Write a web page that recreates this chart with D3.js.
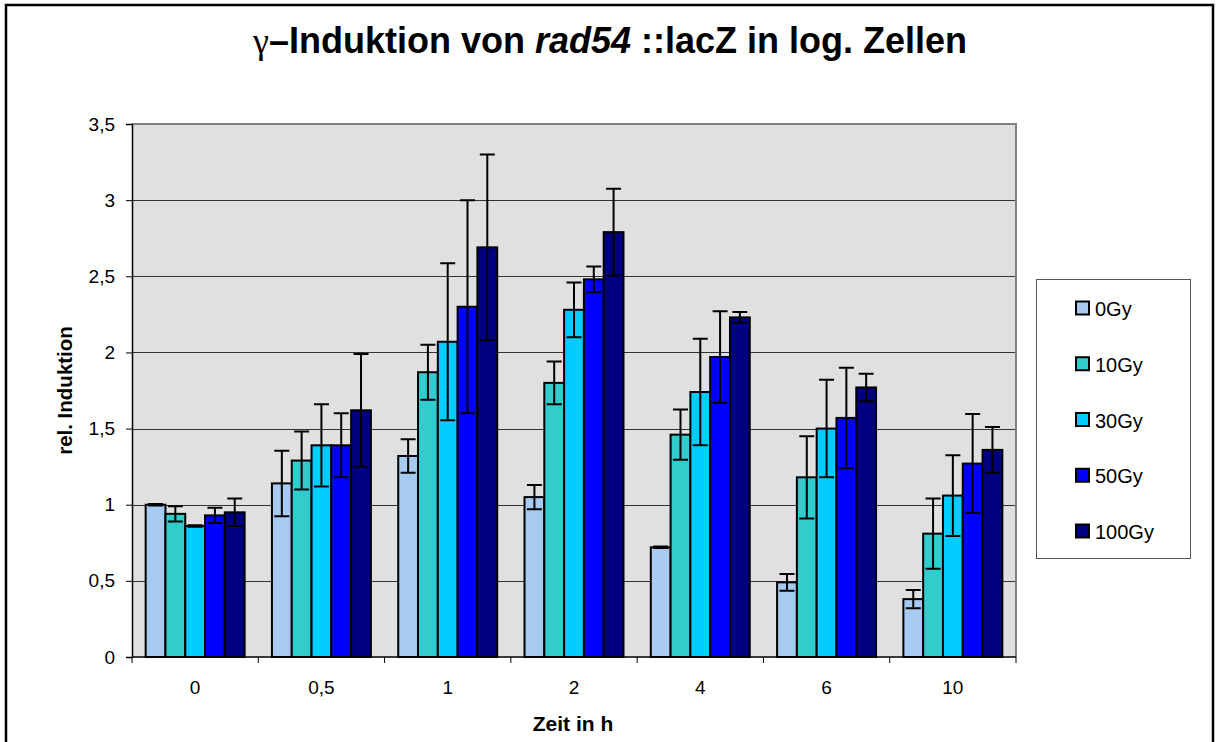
<!DOCTYPE html>
<html><head><meta charset="utf-8">
<script src="https://cdn.jsdelivr.net/npm/d3@7/dist/d3.min.js"></script>
<style>html,body{margin:0;padding:0;background:#fff;}svg{display:block;font-family:"Liberation Sans",Arial,sans-serif;}</style>
</head><body>
<svg id="chart" width="1216" height="742"></svg>
<script>
const categories = ["0", "0,5", "1", "2", "4", "6", "10"];
const seriesNames = ["0Gy", "10Gy", "30Gy", "50Gy", "100Gy"];
const seriesColors = ["#a6caf0", "#33cccc", "#00ccff", "#0000ff", "#000080"];
const values0Gy   = [1.00, 1.14, 1.32, 1.05, 0.72, 0.49, 0.38];
const values10Gy  = [0.94, 1.29, 1.87, 1.80, 1.46, 1.18, 0.81];
const values30Gy  = [0.86, 1.39, 2.07, 2.28, 1.74, 1.50, 1.06];
const values50Gy  = [0.93, 1.39, 2.30, 2.48, 1.97, 1.57, 1.27];
const values100Gy = [0.95, 1.62, 2.69, 2.79, 2.23, 1.77, 1.36];
const err0Gy   = [0.005, 0.215, 0.11, 0.08, 0.005, 0.055, 0.06];
const err10Gy  = [0.05, 0.19, 0.18, 0.14, 0.165, 0.27, 0.23];
const err30Gy  = [0.005, 0.27, 0.515, 0.18, 0.35, 0.32, 0.265];
const err50Gy  = [0.05, 0.21, 0.70, 0.085, 0.30, 0.33, 0.325];
const err100Gy = [0.09, 0.37, 0.61, 0.285, 0.035, 0.09, 0.15];
const yTicks = [0, 0.5, 1, 1.5, 2, 2.5, 3, 3.5];
const titleParts = ["γ", "–Induktion von ", "rad54", " ::lacZ in log. Zellen"];
const yLabel = "rel. Induktion";
const xLabel = "Zeit in h";

const allValues = [values0Gy, values10Gy, values30Gy, values50Gy, values100Gy];
const allErrors = [err0Gy, err10Gy, err30Gy, err50Gy, err100Gy];

const svg = d3.select("#chart");
const L = 132, R = 1016, T = 124, B = 657;

// outer frame
svg.append("rect").attr("x", 6).attr("y", 5).attr("width", 1207).attr("height", 770)
  .attr("fill", "none").attr("stroke", "#000").attr("stroke-width", 2.5);

// title
const title = svg.append("text").attr("x", 610).attr("y", 53).attr("text-anchor", "middle")
  .attr("font-size", 36).attr("font-weight", "bold").attr("fill", "#000");
title.append("tspan").attr("font-family", "'Liberation Serif', 'DejaVu Serif', serif").attr("font-weight", "normal").text(titleParts[0]);
title.append("tspan").text(titleParts[1]);
title.append("tspan").attr("font-style", "italic").text(titleParts[2]);
title.append("tspan").text(titleParts[3]);

const x0 = d3.scaleBand().domain(categories).range([L, R]).padding(0);
const x1 = d3.scaleBand().domain(seriesNames).range([0, x0.bandwidth()]).paddingInner(0).paddingOuter(0.69);
const y = d3.scaleLinear().domain([0, 3.5]).range([B, T]);

// plot background
svg.append("rect").attr("x", L).attr("y", T).attr("width", R - L).attr("height", B - T)
  .attr("fill", "#e0e0e0");

// gridlines
svg.append("g").selectAll("line").data(yTicks.filter(t => t > 0 && t < 3.5)).join("line")
  .attr("x1", L).attr("x2", R).attr("y1", d => Math.round(y(d)) + 0.5).attr("y2", d => Math.round(y(d)) + 0.5)
  .attr("stroke", "#333").attr("stroke-width", 1);

// plot border (top/right gray)
svg.append("path").attr("d", `M${L},${T}H${R}V${B}`).attr("fill", "none")
  .attr("stroke", "#808080").attr("stroke-width", 2);

// bars
const barsG = svg.append("g");
seriesNames.forEach((s, si) => {
  barsG.append("g").selectAll("rect").data(categories).join("rect")
    .attr("x", c => x0(c) + x1(s))
    .attr("y", (c, i) => y(allValues[si][i]))
    .attr("width", x1.bandwidth())
    .attr("height", (c, i) => y(0) - y(allValues[si][i]))
    .attr("fill", seriesColors[si]).attr("stroke", "#000").attr("stroke-width", 2);
});

// error bars
const errG = svg.append("g").attr("stroke", "#000").attr("stroke-width", 2).attr("fill", "none");
seriesNames.forEach((s, si) => {
  categories.forEach((c, i) => {
    const cx = x0(c) + x1(s) + x1.bandwidth() / 2;
    const v = allValues[si][i], e = allErrors[si][i];
    const yt = y(v + e), yb = y(v - e);
    const hw = 7.5;
    errG.append("path").attr("d", `M${cx},${yt}V${yb}M${cx - hw},${yt}H${cx + hw}M${cx - hw},${yb}H${cx + hw}`);
  });
});

// y axis
const yAxis = d3.axisLeft(y).tickValues(yTicks).tickSize(6).tickPadding(11)
  .tickFormat(d => String(d).replace(".", ","));
const yg = svg.append("g").attr("transform", `translate(${L},0)`).call(yAxis);
yg.select(".domain").attr("stroke", "#000").attr("stroke-width", 1.5);
yg.selectAll(".tick line").attr("stroke", "#000");
yg.selectAll(".tick text").attr("font-size", 19).attr("fill", "#000")
  .attr("font-family", "'Liberation Sans', Arial, sans-serif");

// x axis
svg.append("line").attr("x1", L).attr("x2", R).attr("y1", B).attr("y2", B)
  .attr("stroke", "#000").attr("stroke-width", 1.5);
const bounds = categories.map(c => x0(c)).concat([R]);
svg.append("g").selectAll("line").data(bounds).join("line")
  .attr("x1", d => d).attr("x2", d => d).attr("y1", B).attr("y2", B + 6)
  .attr("stroke", "#000").attr("stroke-width", 1);
svg.append("g").selectAll("text").data(categories).join("text")
  .attr("x", c => x0(c) + x0.bandwidth() / 2).attr("y", 694)
  .attr("text-anchor", "middle").attr("font-size", 19).attr("fill", "#000").text(c => c);

// axis titles
svg.append("text").attr("x", 573).attr("y", 731).attr("text-anchor", "middle")
  .attr("font-size", 21).attr("font-weight", "bold").text(xLabel);
svg.append("text").attr("transform", `translate(72,${(T + B) / 2}) rotate(-90)`)
  .attr("text-anchor", "middle").attr("font-size", 20.5).attr("font-weight", "bold").text(yLabel);

// legend
const lg = svg.append("g");
lg.append("rect").attr("x", 1036.5).attr("y", 279.5).attr("width", 154).attr("height", 279)
  .attr("fill", "#fff").attr("stroke", "#555").attr("stroke-width", 1);
const legendY = d3.scalePoint().domain(seriesNames).range([308, 531]);
seriesNames.forEach((s, si) => {
  const cy = legendY(s);
  lg.append("rect").attr("x", 1076).attr("y", cy - 6.5).attr("width", 13).attr("height", 13)
    .attr("fill", seriesColors[si]).attr("stroke", "#000").attr("stroke-width", 2);
  lg.append("text").attr("x", 1095).attr("y", cy + 8).attr("font-size", 20).attr("fill", "#000").text(s);
});
</script>
</body></html>
